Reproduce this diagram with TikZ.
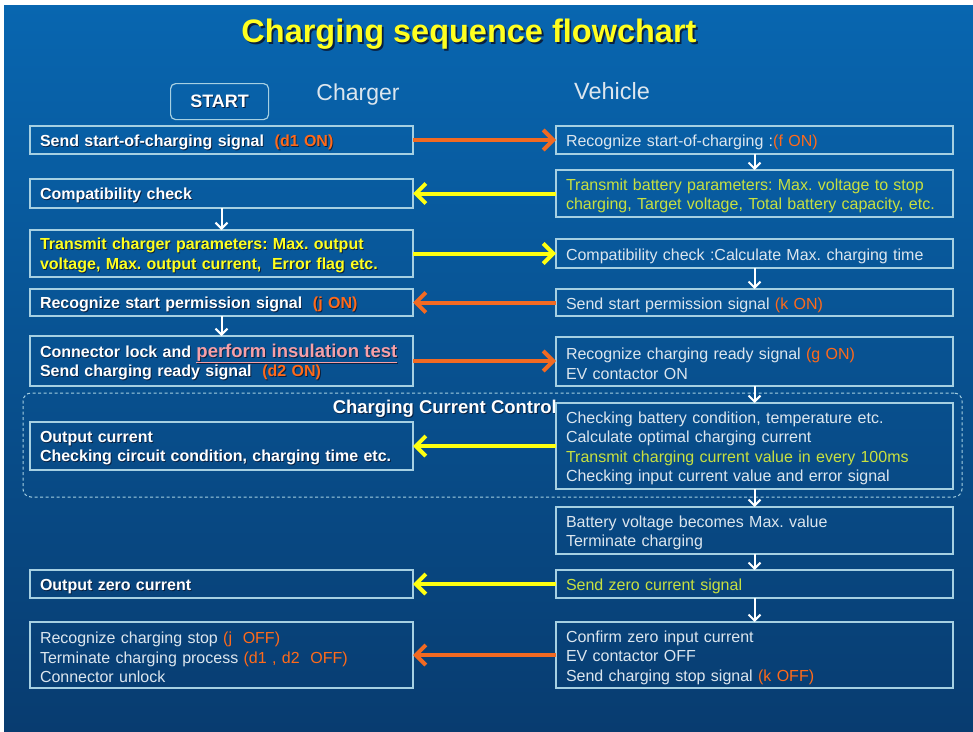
\documentclass[tikz,border=0pt]{standalone}
\usepackage{fontspec}
\setmainfont{Liberation Sans}
\usetikzlibrary{arrows.meta}
\definecolor{bgtop}{HTML}{0866B0}
\definecolor{bgbot}{HTML}{083C70}
\definecolor{edge}{HTML}{A6D0E2}
\definecolor{org}{HTML}{FF6A1A}
\definecolor{ylw}{HTML}{FFFF20}
\definecolor{ygr}{HTML}{C8E040}
\definecolor{lgt}{HTML}{DCE6EE}
\definecolor{pnk}{HTML}{F6A0A8}
\definecolor{shd}{HTML}{0A2040}
\definecolor{arrorg}{HTML}{F26A22}
\definecolor{arrylw}{HTML}{FFFF10}
\newcommand\sh[2][white]{\makebox[0pt][l]{\kern0.9pt\raisebox{-0.9pt}{\textcolor{shd}{#2}}}\textcolor{#1}{#2}}
\newcommand\shT[2][white]{\makebox[0pt][l]{\kern1.8pt\raisebox{-1.8pt}{\textcolor{shd}{#2}}}\textcolor{#1}{#2}}
\frenchspacing
\tikzset{
  basebox/.style={draw=edge, line width=1.2pt, anchor=north west, inner xsep=10pt, inner ysep=0pt, outer sep=0pt, align=left, execute at begin node={\frenchspacing\rule{0pt}{16.5pt}}},
  lbox/.style={basebox, text width=363pt, font=\fontsize{16}{19.5}\selectfont\bfseries, text=white},
  rbox/.style={basebox, text width=377pt, font=\fontsize{16}{19.5}\selectfont, text=lgt},
  oarr/.style={draw=arrorg, line width=4pt, -{Straight Barb[length=10pt,width=20pt]}},
  yarr/.style={draw=arrylw, line width=4pt, -{Straight Barb[length=10pt,width=20pt]}},
  varr/.style={draw=white, line width=2pt, -{Straight Barb[length=6pt,width=12pt]}},
  dbox/.style={draw=edge, line width=1pt, dash pattern=on 3pt off 2.5pt, rounded corners=8pt, anchor=north west, inner sep=0pt, outer sep=0pt}
}
\begin{document}
\begin{tikzpicture}[x=1pt,y=-1pt]
\useasboundingbox (0,0) rectangle (973,731);
\fill[white] (0,0) rectangle (973,731);
\shade[top color=bgtop, bottom color=bgbot] (4,5) rectangle (973,731);

\node[font=\fontsize{32.5}{36}\selectfont\bfseries] (title) at (469,35) {\shT[ylw]{Charging sequence flowchart}};
\node[draw=edge, line width=1.2pt, rounded corners=5pt, minimum width=98pt, minimum height=36pt, anchor=north west, inner sep=0pt, font=\fontsize{18}{20}\selectfont\bfseries] (start) at (170,83) {\sh{START}};
\node[font=\fontsize{23}{26}\selectfont, text=lgt] (charger) at (358,95) {Charger};
\node[font=\fontsize{23.5}{26}\selectfont, text=lgt] (vehicle) at (612,91) {Vehicle};

\node[dbox, minimum width=939pt, minimum height=104pt] (ccc) at (23,393) {};
\node[anchor=east, font=\fontsize{18.5}{20}\selectfont\bfseries, inner sep=0pt] (ccclabel) at (557,409) {\sh{Charging Current Control}};

% charger column
\node[lbox, minimum height=28pt] (L1) at (30,126) {\sh{Send start-of-charging signal}\ \ \sh[org]{(d1 ON)}};
\node[lbox, minimum height=29pt] (L2) at (30,179) {\sh{Compatibility check}};
\node[lbox, minimum height=47pt] (L3) at (30,230) {\sh[ylw]{Transmit charger parameters: Max. output}\\\sh[ylw]{voltage, Max. output current,\ \ Error flag etc.}};
\node[lbox, minimum height=27pt] (L4) at (30,289) {\sh{Recognize start permission signal}\ \ \sh[org]{(j ON)}};
\node[lbox, minimum height=50pt] (L5) at (30,336) {\sh{Connector lock and }\sh[pnk]{\fontsize{18.5}{19.5}\selectfont\underline{perform insulation test}}\\\sh{Send charging ready signal}\ \ \sh[org]{(d2 ON)}};
\node[lbox, minimum height=48pt] (L6) at (30,422) {\sh{Output current}\\\sh{Checking circuit condition, charging time etc.}};
\node[lbox, minimum height=28pt] (L7) at (30,570) {\sh{Output zero current}};
\node[lbox, minimum height=66pt, font=\fontsize{16}{19.5}\selectfont, text=lgt] (L8) at (30,622) {Recognize charging stop \textcolor{org}{(j\ \ OFF)}\\Terminate charging process \textcolor{org}{(d1\ ,\ d2\ \ OFF)}\\Connector unlock};

% vehicle column
\node[rbox, minimum height=28pt] (R1) at (556,126) {Recognize start-of-charging :\textcolor{org}{(f ON)}};
\node[rbox, minimum height=47pt, text=ygr] (R2) at (556,170) {Transmit battery parameters: Max. voltage to stop\\charging, Target voltage, Total battery capacity, etc.};
\node[rbox, minimum height=29pt] (R3) at (556,239) {Compatibility check :Calculate Max. charging time};
\node[rbox, minimum height=27pt] (R4) at (556,289) {Send start permission signal \textcolor{org}{(k ON)}};
\node[rbox, minimum height=49pt] (R5) at (556,337) {Recognize charging ready signal \textcolor{org}{(g ON)}\\EV contactor ON};
\node[rbox, minimum height=86pt] (R6) at (556,403) {Checking battery condition, temperature etc.\\Calculate optimal charging current\\\textcolor{ygr}{Transmit charging current value in every 100ms}\\Checking input current value and error signal};
\node[rbox, minimum height=47pt] (R7) at (556,507) {Battery voltage becomes Max. value\\Terminate charging};
\node[rbox, minimum height=28pt, text=ygr] (R8) at (556,570) {Send zero current signal};
\node[rbox, minimum height=66pt] (R9) at (556,622) {Confirm zero input current\\EV contactor OFF\\Send charging stop signal \textcolor{org}{(k\ OFF)}};

% vertical arrows
\draw[varr] (L2.south) -- (L3.north);
\draw[varr] (L4.south) -- (L5.north);
\draw[varr] (R1.south) -- (R2.north);
\draw[varr] (R3.south) -- (R4.north);
\draw[varr] (R5.south) -- (R6.north);
\draw[varr] (R6.south) -- (R7.north);
\draw[varr] (R7.south) -- (R8.north);
\draw[varr] (R8.south) -- (R9.north);

% horizontal arrows
\draw[oarr] (L1.east) -- (L1.east -| R1.west);
\draw[yarr] (R2.west) -- (R2.west -| L2.east);
\draw[yarr] (L3.east) -- (L3.east -| R3.west);
\draw[oarr] (R4.west) -- (R4.west -| L4.east);
\draw[oarr] (L5.east) -- (L5.east -| R5.west);
\draw[yarr] (R6.west) -- (R6.west -| L6.east);
\draw[yarr] (R8.west) -- (R8.west -| L7.east);
\draw[oarr] (R9.west) -- (R9.west -| L8.east);
\end{tikzpicture}
\end{document}
